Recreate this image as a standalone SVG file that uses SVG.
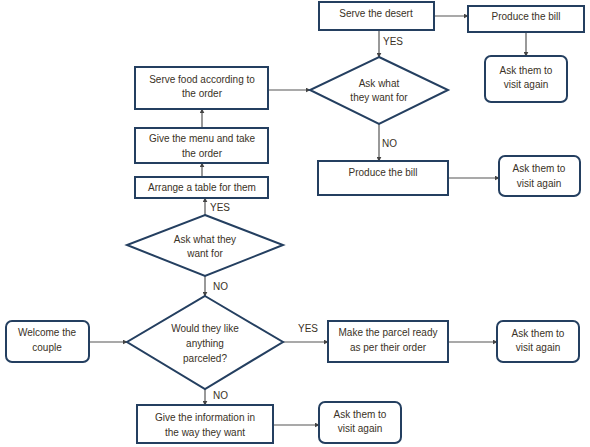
<svg xmlns="http://www.w3.org/2000/svg" width="590" height="447" viewBox="0 0 590 447">
<style>
.box{fill:#fff;stroke:#243f60;stroke-width:2}
.t{font-family:"Liberation Sans",Arial,sans-serif;font-size:10px;fill:#3a3226;text-anchor:middle}
.l{font-family:"Liberation Sans",Arial,sans-serif;font-size:10px;fill:#3a3226}
.c{fill:none;stroke:#555;stroke-width:1.2;marker-end:url(#ah)}
</style>
<defs>
<marker id="ah" viewBox="0 0 8 8" refX="7" refY="4" markerWidth="5" markerHeight="5" orient="auto" markerUnits="userSpaceOnUse">
<path d="M0,0 L8,4 L0,8 z" fill="#444"/>
</marker>
</defs>
<rect width="590" height="447" fill="#fff"/>
<g id="connectors">
<line class="c" x1="434" y1="16" x2="468" y2="16"/>
<line class="c" x1="526" y1="32" x2="526" y2="56"/>
<line class="c" x1="379" y1="30" x2="379" y2="57"/>
<line class="c" x1="268" y1="90" x2="310" y2="90"/>
<line class="c" x1="202" y1="128" x2="202" y2="109"/>
<line class="c" x1="202" y1="177" x2="202" y2="163"/>
<line class="c" x1="379" y1="124" x2="379" y2="161"/>
<line class="c" x1="448" y1="178" x2="499" y2="178"/>
<line class="c" x1="205" y1="215" x2="205" y2="198"/>
<line class="c" x1="205" y1="276" x2="205" y2="296"/>
<line class="c" x1="89" y1="342" x2="127" y2="342"/>
<line class="c" x1="283" y1="342" x2="328" y2="342"/>
<line class="c" x1="448" y1="342" x2="497" y2="342"/>
<line class="c" x1="205" y1="389" x2="205" y2="405"/>
<line class="c" x1="273" y1="425" x2="319" y2="425"/>
<text class="l" x="383" y="45">YES</text>
<text class="l" x="382" y="147">NO</text>
<text class="l" x="210" y="211">YES</text>
<text class="l" x="213" y="290">NO</text>
<text class="l" x="298" y="332">YES</text>
<text class="l" x="213" y="399">NO</text>
</g>
<g id="serve-desert"><rect class="box" x="319" y="2" width="115" height="28"/><text class="t" x="376" y="17">Serve the desert</text></g>
<g id="bill-top"><rect class="box" x="468" y="6" width="116" height="26"/><text class="t" x="526" y="20">Produce the bill</text></g>
<g id="visit-top"><rect class="box" x="485" y="56" width="82" height="46" rx="6"/><text class="t" x="526" y="74">Ask them to</text><text class="t" x="526" y="88">visit again</text></g>
<g id="ask-top"><polygon class="box" points="379,57 448,90 379,124 310,90"/><text class="t" x="379" y="87">Ask what</text><text class="t" x="379" y="101">they want for</text></g>
<g id="serve-food"><rect class="box" x="135" y="67" width="133" height="42"/><text class="t" x="202" y="83">Serve food according to</text><text class="t" x="202" y="97">the order</text></g>
<g id="menu"><rect class="box" x="135" y="128" width="133" height="35"/><text class="t" x="202" y="142">Give the menu and take</text><text class="t" x="202" y="157">the order</text></g>
<g id="table"><rect class="box" x="135" y="177" width="133" height="21"/><text class="t" x="202" y="191">Arrange a table for them</text></g>
<g id="bill-mid"><rect class="box" x="318" y="161" width="130" height="34"/><text class="t" x="383" y="176">Produce the bill</text></g>
<g id="visit-mid"><rect class="box" x="499" y="156" width="81" height="40" rx="6"/><text class="t" x="539" y="172">Ask them to</text><text class="t" x="539" y="187">visit again</text></g>
<g id="ask-mid"><polygon class="box" points="205,215 283,245 205,276 127,245"/><text class="t" x="205" y="243">Ask what they</text><text class="t" x="205" y="257">want for</text></g>
<g id="welcome"><rect class="box" x="6" y="321" width="83" height="41" rx="6"/><text class="t" x="47" y="336">Welcome the</text><text class="t" x="47" y="351">couple</text></g>
<g id="parcel-q"><polygon class="box" points="205,296 283,342 205,389 127,342"/><text class="t" x="205" y="332">Would they like</text><text class="t" x="205" y="347">anything</text><text class="t" x="205" y="362">parceled?</text></g>
<g id="parcel"><rect class="box" x="328" y="321" width="120" height="41"/><text class="t" x="388" y="336">Make the parcel ready</text><text class="t" x="388" y="351">as per their order</text></g>
<g id="visit-parcel"><rect class="box" x="497" y="321" width="82" height="41" rx="6"/><text class="t" x="538" y="337">Ask them to</text><text class="t" x="538" y="351">visit again</text></g>
<g id="info"><rect class="box" x="137" y="405" width="136" height="38"/><text class="t" x="205" y="421">Give the information in</text><text class="t" x="205" y="436">the way they want</text></g>
<g id="visit-info"><rect class="box" x="319" y="402" width="82" height="41" rx="6"/><text class="t" x="360" y="418">Ask them to</text><text class="t" x="360" y="432">visit again</text></g>
</svg>
